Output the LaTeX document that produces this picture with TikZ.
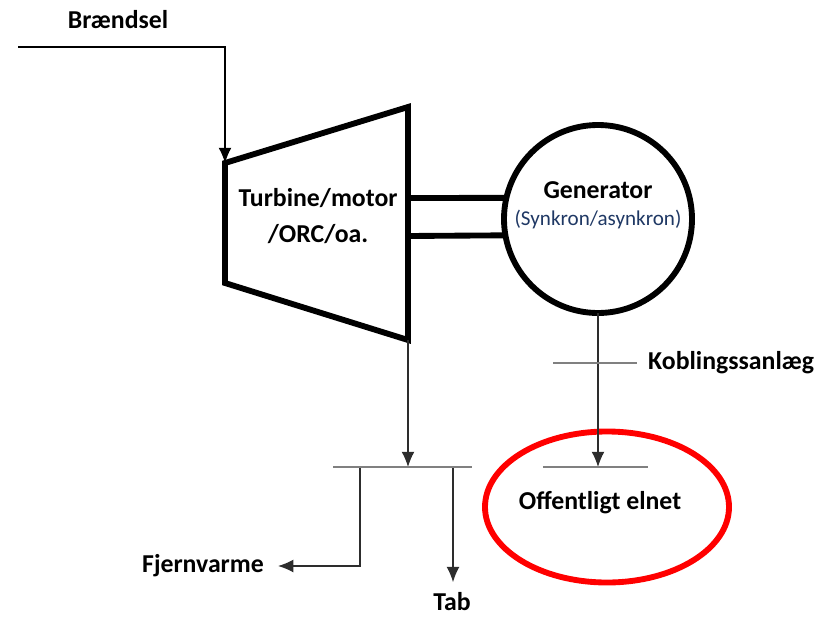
\documentclass[tikz,border=0pt]{standalone}
\usepackage{fontspec}
\setmainfont{Carlito}
\usetikzlibrary{shapes.geometric, arrows.meta}
\definecolor{skinnegraa}{RGB}{128,128,128}
\definecolor{stregraa}{RGB}{45,45,45}
\definecolor{blaatekst}{RGB}{31,56,100}

\begin{document}
\begin{tikzpicture}[x=0.03cm, y=-0.03cm]
			\tikzset{tekst/.style={font=\fontsize{22}{31.5}\selectfont\bfseries, inner sep=0}, pil/.style={-{Latex[length=13pt, width=11pt]}, line width=1pt, draw=stregraa}, skinne/.style={draw=skinnegraa, line width=1pt}, tyk/.style={line width=5pt}};

			\useasboundingbox (0,0) rectangle (820,616);

			\coordinate (tv) at (225,163);
			\coordinate (th) at (408,107);
			\coordinate (bh) at (408,340);
			\coordinate (bv) at (225,283);
			\coordinate (start) at (18,47);
			\coordinate (knaek) at (225,47);
			\coordinate (aksel1) at (408,198);
			\coordinate (aksel2) at (408,236);
			\coordinate (kobling) at (598,363);
			\coordinate (elnetpunkt) at (598,467);
			\coordinate (varmepunkt) at (408,467);
			\coordinate (fjernpunkt) at (360,467);
			\coordinate (tabpunkt) at (453,467);

			\node[tekst] (braendsel) at (118,20) {Brændsel};
			\node[tekst, align=center] (turbine) at (318,216) {Turbine/motor\\/ORC/oa.};
			\node[circle, draw, tyk, minimum size=5.64cm, inner sep=0, outer sep=0] (gen) at (598,219) {};
			\node[tekst] (gentekst) at (598,190) {Generator};
			\node[font=\fontsize{18}{22}\selectfont, text=blaatekst, inner sep=0] (gentype) at (598,219) {(Synkron/asynkron)};
			\node[tekst, anchor=west] (koblingtekst) at (648,363) {Koblingssanlæg};
			\node[tekst] (elnet) at (600,503) {Offentligt elnet};
			\node[ellipse, draw=red, line width=5pt, minimum width=7.32cm, minimum height=4.53cm, inner sep=0] (elnetring) at (607,507) {};
			\node[tekst] (fjernvarme) at (203,566) {Fjernvarme};
			\node[tekst] (tab) at (452,602) {Tab};

			% turbine og aksel
			\draw[tyk, line join=miter] (tv) -- (th) -- (bh) -- (bv) -- cycle;
			\draw[tyk] (aksel1) -- (gen.167);
			\draw[tyk] (aksel2) -- (gen.190);

			\draw[pil, draw=black] (start) -- (knaek) -- (tv);
			\draw[pil] (gen.south) -- (elnetpunkt);
			\draw[pil] (bh) -- (varmepunkt);
			\draw[pil] (fjernpunkt) |- ([xshift=12pt]fjernvarme.east);
			\draw[pil] (tabpunkt) -- ([yshift=9pt]tab.north -| tabpunkt);

			% skinner
			\draw[skinne] ([xshift=-38pt]kobling) -- ([xshift=33pt]kobling);
			\draw[skinne] ([xshift=-47pt]elnetpunkt) -- ([xshift=43pt]elnetpunkt);
			\draw[skinne] ([xshift=-64pt]varmepunkt) -- ([xshift=55pt]varmepunkt);

		\end{tikzpicture}
\end{document}
